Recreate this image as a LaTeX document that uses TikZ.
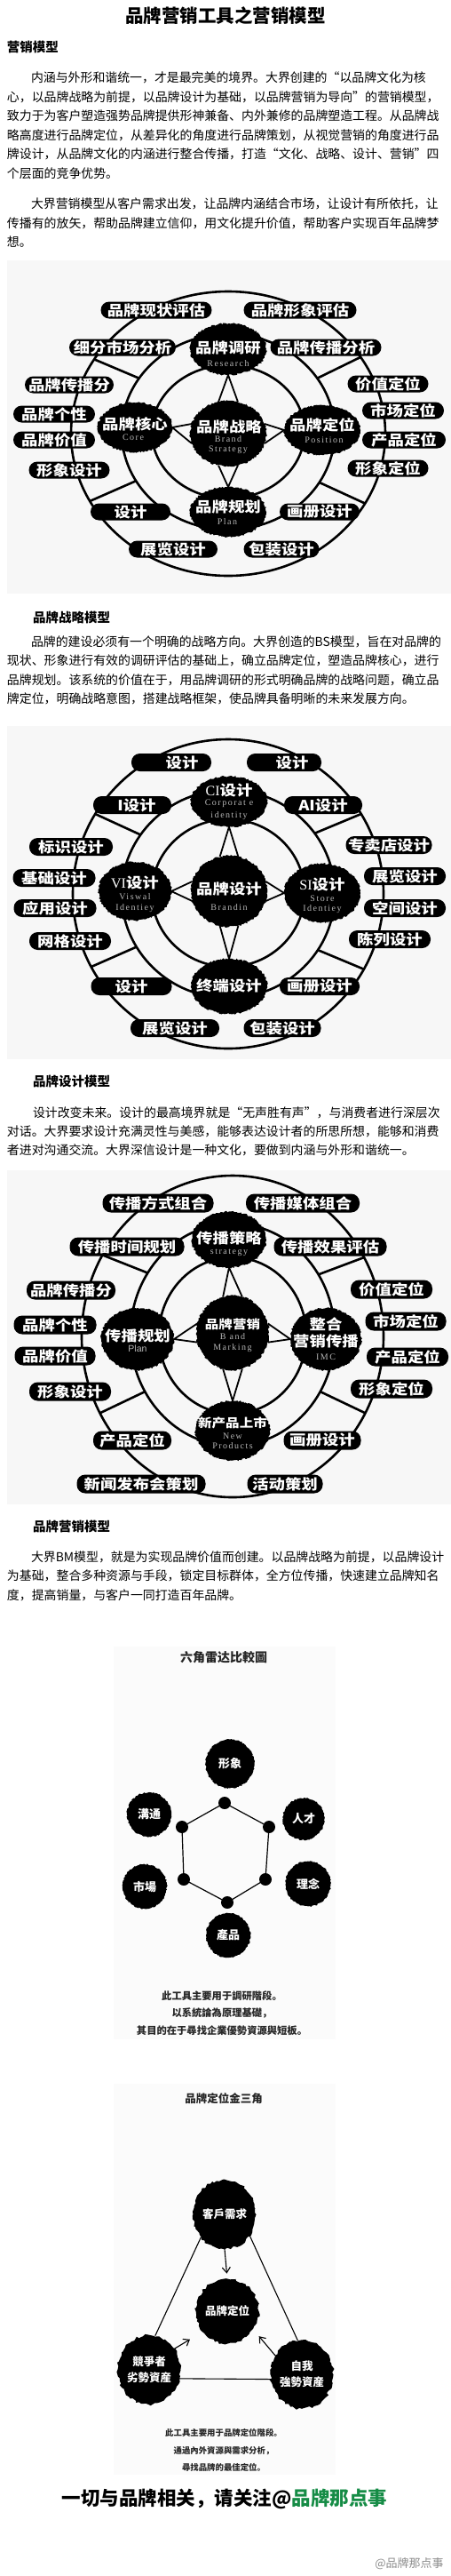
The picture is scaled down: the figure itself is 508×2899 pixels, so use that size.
\documentclass[tikz,border=0pt]{standalone}
\usepackage{fontspec}
\setmainfont{Noto Sans CJK SC}
\newfontfamily\ensf[LetterSpace=15]{Liberation Serif}
\newfontfamily\enserif{Liberation Serif}
\newfontfamily\ensans{Liberation Sans}
\usetikzlibrary{shapes.geometric,decorations.pathmorphing,arrows.meta}
\pgfdeclarelayer{bgfill}
\pgfdeclarelayer{bgline}
\pgfsetlayers{bgfill,bgline,main}
\definecolor{imgbg}{RGB}{247,247,247}
\definecolor{imgbgb}{RGB}{251,251,251}
\definecolor{wbgreen}{RGB}{22,140,70}
\newcommand\pxt[1]{\scalebox{1.15}[1]{#1}}
\tikzset{
  every node/.style={inner sep=0pt, outer sep=0pt},
  ring/.style={ellipse, draw=black, line width=2.6pt},
  spoke/.style={line width=2.6pt},
  vline/.style={line width=1.8pt},
  pill/.style={fill=black, rounded corners=9.5pt, minimum height=19pt, text=white, font=\bfseries\fontsize{16}{16}\selectfont},
  pilltext/.style={text=white, font=\bfseries\fontsize{16}{16}\selectfont},
  blob/.style={ellipse, fill=black, decorate, decoration={random steps, segment length=1.6pt, amplitude=1pt}},
  zh/.style={text=white, font=\bfseries\fontsize{16}{16}\selectfont},
  zhs/.style={text=white, font=\bfseries\fontsize{13.5}{14}\selectfont},
  en/.style={text=black!28, font=\ensf\fontsize{10}{10}\selectfont},
  body/.style={anchor=west, font=\fontsize{13.9}{14}\selectfont},
  headx/.style={anchor=west, font=\bfseries\fontsize{14.5}{15}\selectfont},
  hcirc/.style={circle, fill=black, decorate, decoration={random steps, segment length=1.5pt, amplitude=0.8pt}, text=white, font=\bfseries\fontsize{13}{13}\selectfont},
  hdot/.style={circle, fill=black, minimum size=14pt},
  hedge/.style={line width=1.2pt},
  capt/.style={text=black!85, font=\bfseries\fontsize{11.3}{11.3}\selectfont},
  capts/.style={text=black!85, font=\bfseries\fontsize{9.4}{9.4}\selectfont},
  tblob/.style={ellipse, fill=black, decorate, decoration={random steps, segment length=3pt, amplitude=1.5pt}, text=white, align=center, font=\bfseries\fontsize{12.5}{18}\selectfont},
  tline/.style={line width=1.1pt},
  tarrow/.style={line width=1.1pt, -{Straight Barb[length=6pt,width=9pt]}},
}
\begin{document}
\begin{tikzpicture}[x=1pt,y=-1pt]
\pgfmathsetseed{12}
\useasboundingbox (0,0) rectangle (508,2899);
\begin{pgfonlayer}{bgfill}
\fill[white] (0,0) rectangle (508,2899);
\fill[imgbg] (8,293) rectangle (508,668);
\fill[imgbg] (8,817) rectangle (508,1192);
\fill[imgbg] (8,1317) rectangle (508,1693);
\fill[imgbgb] (128,1853) rectangle (378,2295);
\fill[imgbgb] (128,2345) rectangle (378,2785);
\end{pgfonlayer}

% ---------- title and section 1 text ----------
\node[font=\bfseries\fontsize{20.5}{21}\selectfont] (title) at (254,18) {品牌营销工具之营销模型};
\node[headx] (h1) at (8,53) {营销模型};
\node[body] (b1) at (35,87.3) {内涵与外形和谐统一，才是最完美的境界。大界创建的“以品牌文化为核};
\node[body] (b2) at (8,109) {心，以品牌战略为前提，以品牌设计为基础，以品牌营销为导向”的营销模型，};
\node[body] (b3) at (8,130.5) {致力于为客户塑造强势品牌提供形神兼备、内外兼修的品牌塑造工程。从品牌战};
\node[body] (b4) at (8,152) {略高度进行品牌定位，从差异化的角度进行品牌策划，从视觉营销的角度进行品};
\node[body] (b5) at (8,173.5) {牌设计，从品牌文化的内涵进行整合传播，打造“文化、战略、设计、营销”四};
\node[body] (b6) at (8,195) {个层面的竞争优势。};
\node[body] (b7) at (35,229.5) {大界营销模型从客户需求出发，让品牌内涵结合市场，让设计有所依托，让};
\node[body] (b8) at (8,251) {传播有的放矢，帮助品牌建立信仰，用文化提升价值，帮助客户实现百年品牌梦};
\node[body] (b9) at (8,272.5) {想。};

% ---------- diagram 1 ----------
\node[ring, minimum width=354pt, minimum height=320pt] (d1out) at (257,488) {};
\node[ring, minimum width=240pt, minimum height=220pt] (d1mid) at (257,486) {};
\node[ring, minimum width=172pt, minimum height=150pt] (d1in) at (257,486) {};
\node[blob, minimum width=86pt, minimum height=58pt] (d1t) at (257,393) {};
\node[blob, minimum width=84pt, minimum height=56pt] (d1l) at (152,481) {};
\node[blob, minimum width=86pt, minimum height=74pt] (d1c) at (257,488) {};
\node[blob, minimum width=86pt, minimum height=56pt] (d1r) at (363,484) {};
\node[blob, minimum width=86pt, minimum height=56pt] (d1b) at (257,576) {};
\node[zh] (d1tz) at (257,391) {\pxt{品牌调研}};
\node[en] (d1te) at (257,409) {Research};
\node[zh] (d1lz) at (152,477) {\pxt{品牌核心}};
\node[en] (d1le) at (150,492) {Core};
\node[zh] (d1cz) at (258,480) {\pxt{品牌战略}};
\node[en] (d1ce1) at (257,494) {Brand};
\node[en] (d1ce2) at (257,506) {Strategy};
\node[zh] (d1rz) at (363,478) {\pxt{品牌定位}};
\node[en] (d1re) at (365,495) {Position};
\node[zh] (d1bz) at (257,570) {\pxt{品牌规划}};
\node[en] (d1be) at (256,587) {Plan};
\node[pill, minimum width=125pt] (p1a) at (176,349) {\pxt{品牌现状评估}};
\node[pill, minimum width=127pt] (p1b) at (338,349) {\pxt{品牌形象评估}};
\node[pill, minimum width=120pt] (p1c) at (138,391) {\pxt{细分市场分析}};
\node[pill, minimum width=125pt] (p1d) at (367,391) {\pxt{品牌传播分析}};
\node[pill, minimum width=100pt] (p1e) at (78,433) {\pxt{品牌传播分}};
\node[pill, minimum width=92pt] (p1f) at (61,466) {\pxt{品牌个性}};
\node[pill, minimum width=92pt] (p1g) at (61,495) {\pxt{品牌价值}};
\node[pill, minimum width=91pt] (p1h) at (78,529) {\pxt{形象设计}};
\node[pill, minimum width=90pt] (p1i) at (147,576) {\pxt{设计}};
\node[pill, minimum width=100pt] (p1j) at (195,618) {\pxt{展览设计}};
\node[pill, minimum width=85pt] (p1k) at (317,618) {\pxt{包装设计}};
\node[pill, minimum width=90pt] (p1l) at (360,576) {\pxt{画册设计}};
\node[pill, minimum width=91pt] (p1m) at (437,527) {\pxt{形象定位}};
\node[pill, minimum width=94pt] (p1n) at (455,495) {\pxt{产品定位}};
\node[pill, minimum width=92pt] (p1o) at (454,462) {\pxt{市场定位}};
\node[pill, minimum width=91pt] (p1p) at (437,432) {\pxt{价值定位}};
\begin{pgfonlayer}{bgline}
\draw[spoke] (d1out.151) -- (d1mid.149);
\draw[spoke] (d1out.30) -- (d1mid.31);
\draw[spoke] (d1out.206) -- (d1mid.208);
\draw[spoke] (d1out.-27) -- (d1mid.-29);
\draw[vline] (d1c.107) -- (d1t.south) -- (d1c.73);
\draw[vline] (d1c.165) -- (d1l.east) -- (d1c.195);
\draw[vline] (d1c.15) -- (d1r.west) -- (d1c.-15);
\draw[vline] (d1c.-107) -- (d1b.north) -- (d1c.-73);
\end{pgfonlayer}

% ---------- section 2 text ----------
\node[headx] (h2) at (37,695) {品牌战略模型};
\node[body] (b10) at (35,722) {品牌的建设必须有一个明确的战略方向。大界创造的BS模型，旨在对品牌的};
\node[body] (b11) at (8,743.5) {现状、形象进行有效的调研评估的基础上，确立品牌定位，塑造品牌核心，进行};
\node[body] (b12) at (8,765) {品牌规划。该系统的价值在于，用品牌调研的形式明确品牌的战略问题，确立品};
\node[body] (b13) at (8,786.5) {牌定位，明确战略意图，搭建战略框架，使品牌具备明晰的未来发展方向。};

% ---------- diagram 2 ----------
\node[ring, minimum width=350pt, minimum height=348pt] (d2out) at (257,1006) {};
\node[ring, minimum width=240pt, minimum height=234pt] (d2mid) at (257,1006) {};
\node[ring, minimum width=172pt, minimum height=166pt] (d2in) at (257,1005) {};
\node[blob, minimum width=86pt, minimum height=57pt] (d2t) at (258,902) {};
\node[blob, minimum width=82pt, minimum height=66pt] (d2l) at (152,1003) {};
\node[blob, minimum width=86pt, minimum height=80pt] (d2c) at (258,1003) {};
\node[blob, minimum width=86pt, minimum height=66pt] (d2r) at (363,1005) {};
\node[blob, minimum width=86pt, minimum height=62pt] (d2b) at (258,1110) {};
\node[zh] (d2tz) at (258,889) {{\enserif\mdseries CI}\pxt{设计}};
\node[en] (d2te1) at (258,904) {Corporat e};
\node[en] (d2te2) at (258,918) {identity};
\node[zh] (d2lz) at (152,993) {{\enserif\mdseries VI}\pxt{设计}};
\node[en] (d2le1) at (152,1009) {Viswal};
\node[en] (d2le2) at (152,1022) {Identiey};
\node[zh] (d2cz) at (258,1000) {\pxt{品牌设计}};
\node[en] (d2ce) at (258,1021) {Brandin};
\node[zh] (d2rz) at (363,995) {{\enserif\mdseries SI}\pxt{设计}};
\node[en] (d2re1) at (363,1011) {Store};
\node[en] (d2re2) at (363,1023) {Identiey};
\node[zh] (d2bz) at (258,1109) {\pxt{终端设计}};
\node[pill, minimum width=90pt, minimum height=20pt] (p2a) at (193,858) {};
\node[pilltext] (p2at) at (205,858) {\pxt{设计}};
\node[pill, minimum width=84pt, minimum height=20pt] (p2b) at (320,858) {};
\node[pilltext] (p2bt) at (329,858) {\pxt{设计}};
\node[pill, minimum width=88pt, minimum height=20pt] (p2c) at (149,906) {};
\node[pilltext] (p2ct) at (154,906) {\pxt{I设计}};
\node[pill, minimum width=88pt, minimum height=20pt] (p2d) at (364,906) {\pxt{AI设计}};
\node[pill, minimum width=94pt, minimum height=20pt] (p2e) at (80,953) {\pxt{标识设计}};
\node[pill, minimum width=93pt, minimum height=20pt] (p2f) at (61,988) {\pxt{基础设计}};
\node[pill, minimum width=93pt, minimum height=20pt] (p2g) at (62,1022) {\pxt{应用设计}};
\node[pill, minimum width=92pt, minimum height=20pt] (p2h) at (79,1059) {\pxt{网格设计}};
\node[pill, minimum width=91pt, minimum height=20pt] (p2i) at (148,1110) {\pxt{设计}};
\node[pill, minimum width=100pt, minimum height=20pt] (p2j) at (197,1157) {\pxt{展览设计}};
\node[pill, minimum width=87pt, minimum height=20pt] (p2k) at (318,1157) {\pxt{包装设计}};
\node[pill, minimum width=90pt, minimum height=20pt] (p2l) at (360,1110) {\pxt{画册设计}};
\node[pill, minimum width=92pt, minimum height=20pt] (p2m) at (439,1057) {\pxt{陈列设计}};
\node[pill, minimum width=92pt, minimum height=20pt] (p2n) at (456,1022) {\pxt{空间设计}};
\node[pill, minimum width=92pt, minimum height=20pt] (p2o) at (456,986) {\pxt{展览设计}};
\node[pill, minimum width=97pt, minimum height=20pt] (p2p) at (438,951) {\pxt{专卖店设计}};
\begin{pgfonlayer}{bgline}
\draw[spoke] (d2out.149) -- (d2mid.146);
\draw[spoke] (d2out.31) -- (d2mid.35);
\draw[spoke] (d2out.208) -- (d2mid.210);
\draw[spoke] (d2out.-29) -- (d2mid.-32);
\draw[vline] (d2c.105) -- (d2t.south) -- (d2c.75);
\draw[vline] (d2c.165) -- (d2l.east) -- (d2c.195);
\draw[vline] (d2c.15) -- (d2r.west) -- (d2c.-15);
\draw[vline] (d2c.-105) -- (d2b.north) -- (d2c.-75);
\end{pgfonlayer}

% ---------- section 3 text ----------
\node[headx] (h3) at (37,1217) {品牌设计模型};
\node[body] (b14) at (37,1252) {设计改变未来。设计的最高境界就是“无声胜有声”，与消费者进行深层次};
\node[body] (b15) at (8,1273.5) {对话。大界要求设计充满灵性与美感，能够表达设计者的所思所想，能够和消费};
\node[body] (b16) at (8,1294) {者进对沟通交流。大界深信设计是一种文化，要做到内涵与外形和谐统一。};

% ---------- diagram 3 ----------
\node[ring, minimum width=340pt, minimum height=362pt] (d3out) at (262,1504) {};
\node[ring, minimum width=230pt, minimum height=250pt] (d3mid) at (262,1502) {};
\node[ring, minimum width=166pt, minimum height=176pt] (d3in) at (262,1503) {};
\node[blob, minimum width=84pt, minimum height=63pt] (d3t) at (258,1395) {};
\node[blob, minimum width=82pt, minimum height=70pt] (d3l) at (155,1507) {};
\node[blob, minimum width=82pt, minimum height=84pt] (d3c) at (262,1500) {};
\node[blob, minimum width=80pt, minimum height=70pt] (d3r) at (367,1507) {};
\node[blob, minimum width=84pt, minimum height=67pt] (d3b) at (262,1610) {};
\node[zh] (d3tz) at (258,1393) {\pxt{传播策略}};
\node[en] (d3te) at (258,1410) {strategy};
\node[zh] (d3lz) at (155,1503) {\pxt{传播规划}};
\node[en, font=\ensans\fontsize{10.5}{10.5}\selectfont] (d3le) at (155,1518) {Plan};
\node[zhs] (d3cz) at (262,1490) {\pxt{品牌营销}};
\node[en] (d3ce1) at (262,1504) {B and};
\node[en] (d3ce2) at (262,1517) {Marking};
\node[zh] (d3rz1) at (367,1490) {\pxt{整合}};
\node[zh] (d3rz2) at (367,1509) {\pxt{营销传播}};
\node[en] (d3re) at (367,1527) {IMC};
\node[zhs] (d3bz) at (262,1601) {\pxt{新产品上市}};
\node[en] (d3be1) at (262,1616) {New};
\node[en] (d3be2) at (262,1627) {Products};
\node[pill, minimum width=125pt, minimum height=21pt] (p3a) at (178,1354) {\pxt{传播方式组合}};
\node[pill, minimum width=128pt, minimum height=21pt] (p3b) at (341,1354) {\pxt{传播媒体组合}};
\node[pill, minimum width=129pt, minimum height=21pt] (p3c) at (143,1403) {\pxt{传播时间规划}};
\node[pill, minimum width=127pt, minimum height=21pt] (p3d) at (372,1403) {\pxt{传播效果评估}};
\node[pill, minimum width=100pt, minimum height=21pt] (p3e) at (80,1452) {\pxt{品牌传播分}};
\node[pill, minimum width=93pt, minimum height=21pt] (p3f) at (62,1491) {\pxt{品牌个性}};
\node[pill, minimum width=91pt, minimum height=21pt] (p3g) at (62,1526) {\pxt{品牌价值}};
\node[pill, minimum width=92pt, minimum height=21pt] (p3h) at (79,1566) {\pxt{形象设计}};
\node[pill, minimum width=88pt, minimum height=21pt] (p3i) at (149,1621) {\pxt{产品定位}};
\node[pill, minimum width=145pt, minimum height=21pt] (p3j) at (159,1670) {\pxt{新闻发布会策划}};
\node[pill, minimum width=85pt, minimum height=21pt] (p3k) at (321,1670) {\pxt{活动策划}};
\node[pill, minimum width=87pt, minimum height=21pt] (p3l) at (363,1621) {\pxt{画册设计}};
\node[pill, minimum width=92pt, minimum height=21pt] (p3m) at (441,1563) {\pxt{形象定位}};
\node[pill, minimum width=92pt, minimum height=21pt] (p3n) at (459,1527) {\pxt{产品定位}};
\node[pill, minimum width=91pt, minimum height=21pt] (p3o) at (457,1487) {\pxt{市场定位}};
\node[pill, minimum width=92pt, minimum height=21pt] (p3p) at (441,1451) {\pxt{价值定位}};
\begin{pgfonlayer}{bgline}
\draw[spoke] (d3out.148) -- (d3mid.144);
\draw[spoke] (d3out.31) -- (d3mid.35);
\draw[spoke] (d3out.210) -- (d3mid.213);
\draw[spoke] (d3out.-30) -- (d3mid.-33);
\draw[vline] (d3c.105) -- (d3t.south) -- (d3c.75);
\draw[vline] (d3c.165) -- (d3l.east) -- (d3c.195);
\draw[vline] (d3c.15) -- (d3r.west) -- (d3c.-15);
\draw[vline] (d3c.-105) -- (d3b.north) -- (d3c.-75);
\end{pgfonlayer}

% ---------- section 4 text ----------
\node[headx] (h4) at (37,1718) {品牌营销模型};
\node[body] (b17) at (35,1752) {大界BM模型，就是为实现品牌价值而创建。以品牌战略为前提，以品牌设计};
\node[body] (b18) at (8,1773.5) {为基础，整合多种资源与手段，锁定目标群体，全方位传播，快速建立品牌知名};
\node[body] (b19) at (8,1795) {度，提高销量，与客户一同打造百年品牌。};

% ---------- hexagon radar ----------
\node[text=black!85, font=\bfseries\fontsize{14}{14}\selectfont] (hxt) at (252,1865) {六角雷达比較圖};
\node[hcirc, minimum size=55pt] (hx1) at (259,1985) {形象};
\node[hcirc, minimum size=47pt] (hx2) at (342,2047) {人才};
\node[hcirc, minimum size=50pt] (hx3) at (168,2042) {溝通};
\node[hcirc, minimum size=50pt] (hx4) at (163,2123) {市場};
\node[hcirc, minimum size=51pt] (hx5) at (347,2120) {理念};
\node[hcirc, minimum size=50pt] (hx6) at (257,2178) {產品};
\node[hdot] (hd1) at (253,2029) {};
\node[hdot] (hd2) at (303,2056) {};
\node[hdot] (hd3) at (299,2115) {};
\node[hdot] (hd4) at (256,2141) {};
\node[hdot] (hd5) at (207,2115) {};
\node[hdot] (hd6) at (205,2056) {};
\begin{pgfonlayer}{bgline}
\draw[hedge] (hd1) -- (hd2) -- (hd3) -- (hd4) -- (hd5) -- (hd6) -- (hd1);
\end{pgfonlayer}
\node[capt] (hc1) at (250,2246) {此工具主要用于調研階段。};
\node[capt] (hc2) at (250,2265) {以系統論為原理基礎，};
\node[capt] (hc3) at (250,2285) {其目的在于尋找企業優勢資源與短板。};

% ---------- triangle ----------
\node[text=black!85, font=\bfseries\fontsize{12.5}{12.5}\selectfont] (trt) at (252,2362) {品牌定位金三角};
\node[tblob, minimum width=67pt, minimum height=78pt] (tq) at (253,2492) {客戶需求};
\node[tblob, minimum width=62pt, minimum height=73pt] (tp) at (256,2601) {品牌定位};
\node[tblob, minimum width=67pt, minimum height=78pt] (tl) at (168,2667) {競爭者\\劣勢資産};
\node[tblob, minimum width=67pt, minimum height=77pt] (tr) at (340,2672) {自我\\強勢資産};
\draw[tline] (tq.224) -- (tl.80);
\draw[tline] (tq.-40) -- (tr.97);
\draw[tline] (tl.-16) -- (tr.189);
\draw[tarrow, shorten >=6pt] (tq.south) -- (tp.north);
\draw[tarrow, shorten >=17pt] (tl.40) -- (tp.220);
\draw[tarrow, shorten >=10pt] (tr.145) -- (tp.-35);
\node[capts] (tc1) at (252,2738) {此工具主要用于品牌定位階段。};
\node[capts] (tc2) at (252,2758) {通過內外資源與需求分析，};
\node[capts] (tc3) at (252,2777) {尋找品牌的最佳定位。};

% ---------- footer ----------
\node[font=\bfseries\fontsize{21.5}{22}\selectfont] (foot) at (253,2812) {一切与品牌相关，请关注@\textcolor{wbgreen}{品牌那点事}};
\node[text=black!45, font=\fontsize{13}{13}\selectfont] (wm) at (461,2885) {@品牌那点事};
\end{tikzpicture}
\end{document}
